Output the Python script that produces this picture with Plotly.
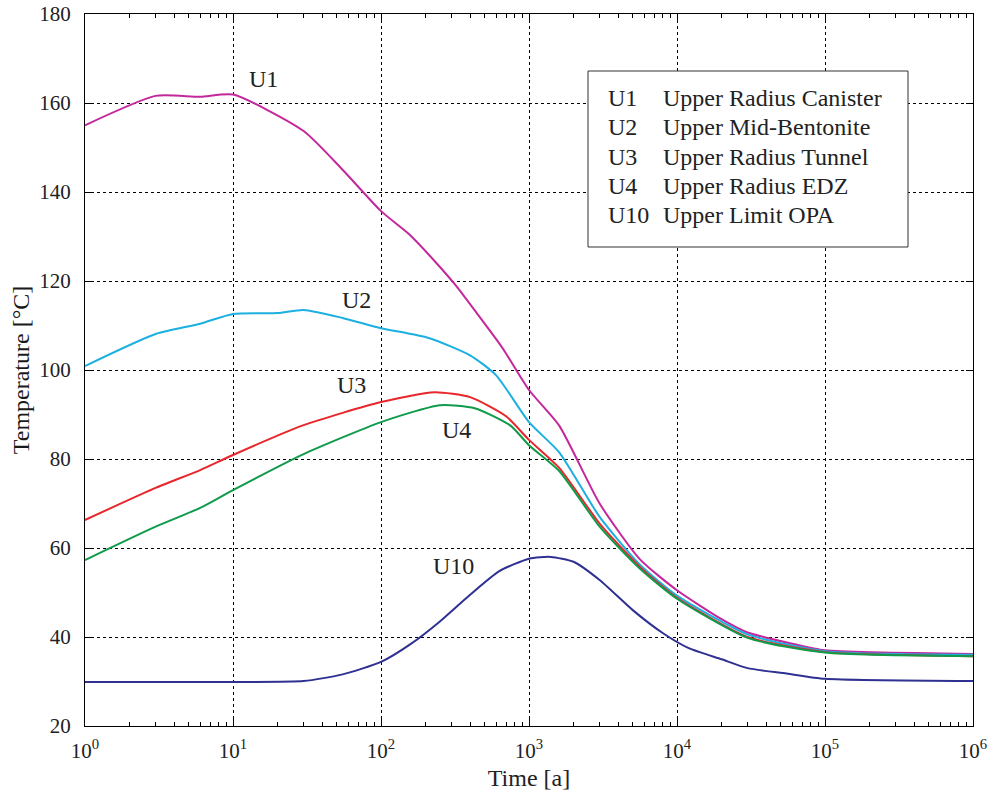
import math
import plotly.graph_objects as go

# ---- data (time in years, temperature in °C) ----
t_U1 = [1, 3, 6, 10, 30, 55, 100, 155, 230, 320, 450, 660, 1000, 1600, 3000, 5600, 10000, 20000, 30000, 60000, 100000, 1000000]
T_U1 = [155.0, 161.6, 161.4, 161.9, 153.7, 145.0, 135.7, 130.5, 124.5, 119.0, 112.5, 105.0, 95.5, 87.5, 70.0, 57.5, 50.5, 44.0, 41.0, 38.5, 37.0, 36.2]

t_U2 = [1, 3, 6, 10, 20, 30, 55, 100, 210, 400, 600, 1000, 1600, 3000, 5600, 10000, 30000, 100000, 1000000]
T_U2 = [100.9, 108.1, 110.4, 112.6, 112.8, 113.5, 111.7, 109.4, 107.2, 103.3, 98.8, 88.3, 81.5, 67.0, 56.3, 49.3, 40.6, 36.8, 36.0]

t_U3 = [1, 3, 6, 10, 30, 100, 230, 400, 700, 1000, 1600, 3000, 5600, 10000, 30000, 100000, 1000000]
T_U3 = [66.3, 73.5, 77.5, 80.9, 87.6, 92.8, 95.0, 93.9, 89.6, 84.3, 78.0, 65.5, 55.8, 48.8, 40.0, 36.6, 35.7]

t_U4 = [1, 3, 6, 10, 30, 100, 250, 430, 750, 1000, 1600, 3000, 5600, 10000, 30000, 100000, 1000000]
T_U4 = [57.3, 64.8, 69.0, 73.0, 81.1, 88.3, 92.1, 91.4, 87.5, 83.1, 77.3, 64.8, 55.4, 48.6, 39.8, 36.5, 35.7]

t_U10 = [1, 10, 30, 55, 100, 160, 250, 400, 630, 1000, 1400, 2000, 3000, 5000, 8000, 12000, 20000, 30000, 55000, 100000, 1000000]
T_U10 = [29.9, 29.9, 30.1, 31.6, 34.4, 38.5, 43.5, 49.5, 54.8, 57.6, 58.0, 56.9, 52.8, 46.1, 40.9, 37.5, 35.0, 33.0, 31.8, 30.6, 30.1]

series = [
    ("U1", "Upper Radius Canister", t_U1, T_U1, "#c4279c"),
    ("U2", "Upper Mid-Bentonite", t_U2, T_U2, "#1cb0e0"),
    ("U3", "Upper Radius Tunnel", t_U3, T_U3, "#e8262b"),
    ("U4", "Upper Radius EDZ", t_U4, T_U4, "#0f9b4a"),
    ("U10", "Upper Limit OPA", t_U10, T_U10, "#2e3192"),
]

# curve labels: (text, time, temperature)
curve_labels = [("U1", 16, 165.3), ("U2", 68, 115.7), ("U3", 63, 96.6), ("U4", 325, 86.5), ("U10", 310, 56.0)]

x_tick_vals = [1, 10, 100, 1000, 10000, 100000, 1000000]
x_tick_text = ["10<sup>0</sup>", "10<sup>1</sup>", "10<sup>2</sup>", "10<sup>3</sup>",
               "10<sup>4</sup>", "10<sup>5</sup>", "10<sup>6</sup>"]
y_tick_vals = [20, 40, 60, 80, 100, 120, 140, 160, 180]
minor_x = [m * 10 ** k for k in range(6) for m in range(2, 10)]

FONT = "Liberation Serif"
TXT = "#222222"

# plot-area geometry in pixels
L, R, T, B = 85, 973, 14, 726
W, H = R - L, B - T


def px(xp):
    return (xp - L) / W


def py(yp):
    return (B - yp) / H


fig = go.Figure()
for code, name, t, Tv, col in series:
    fig.add_trace(go.Scatter(x=t, y=Tv, mode="lines", name=f"{code} {name}",
                             line=dict(color=col, width=2, shape="spline", smoothing=0.6),
                             showlegend=False))

for txt, xv, yv in curve_labels:
    fig.add_annotation(x=math.log10(xv), y=yv, text=txt, showarrow=False,
                       font=dict(family=FONT, size=24, color=TXT))

# legend box as text
fig.add_shape(type="rect", xref="paper", yref="paper",
              x0=px(588), x1=px(908), y0=py(247), y1=py(71),
              line=dict(color="#333", width=1), fillcolor="white", layer="above")
row_y = [98, 127.3, 156.6, 185.9, 215.2]
for (code, name, *_), yy in zip(series, row_y):
    for txt, xpix in ((code, 606), (name, 661)):
        fig.add_annotation(xref="paper", yref="paper", x=px(xpix), y=py(yy),
                           xanchor="left", yanchor="middle", align="left", text=txt,
                           showarrow=False, font=dict(family=FONT, size=24, color=TXT))

fig.update_layout(
    width=996, height=796,
    margin=dict(l=L, r=996 - R, t=T, b=796 - B, autoexpand=False),
    paper_bgcolor="white", plot_bgcolor="white",
    font=dict(family=FONT, size=21, color=TXT),
    xaxis=dict(type="log", range=[0, 6], tickvals=x_tick_vals, ticktext=x_tick_text,
               automargin=False,
               showgrid=True, gridcolor="black", griddash="dot", gridwidth=1,
               ticks="inside", ticklen=7, tickcolor="black", mirror="allticks",
               showline=True, linecolor="black", linewidth=1, zeroline=False,
               minor=dict(tickvals=minor_x, ticks="inside", ticklen=4, tickcolor="black", showgrid=False),
               title=dict(text="Time [a]", font=dict(family=FONT, size=24, color=TXT), standoff=6),
               tickfont=dict(family=FONT, size=21, color=TXT), ticklabelstandoff=6),
    yaxis=dict(range=[20, 180], tickvals=y_tick_vals, automargin=False,
               showgrid=True, gridcolor="black", griddash="dot", gridwidth=1,
               ticks="inside", ticklen=7, tickcolor="black", mirror="allticks",
               showline=True, linecolor="black", linewidth=1, zeroline=False,
               title=dict(text="Temperature [°C]", font=dict(family=FONT, size=24, color="#1a1a1a"), standoff=2),
               tickfont=dict(family=FONT, size=21, color=TXT), ticklabelstandoff=9),
)

fig.write_html("out.html")
